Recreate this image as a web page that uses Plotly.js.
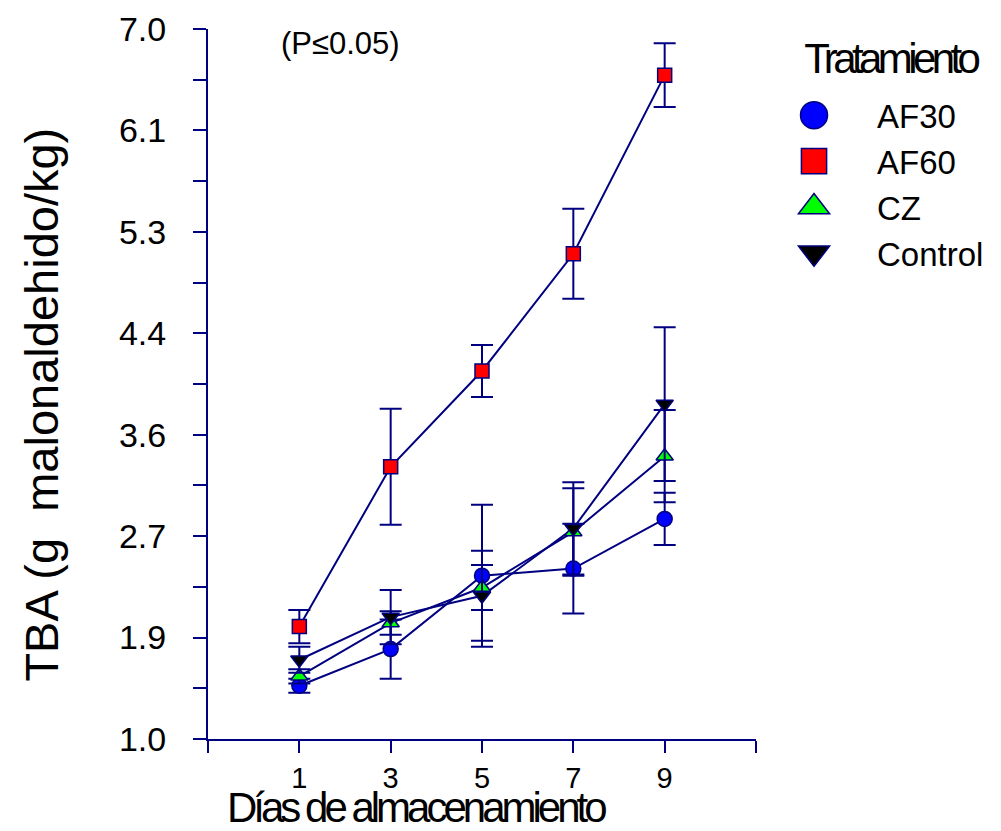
<!DOCTYPE html>
<html>
<head>
<meta charset="utf-8">
<script src="https://cdn.plot.ly/plotly-3.0.1.min.js"></script>
<style>
  html, body { margin: 0; padding: 0; background: #fff; }
  #chart { width: 1001px; height: 831px; }
  g.annotation[data-index="1"] text { letter-spacing: -4px; }
  g.annotation[data-index="2"] text { letter-spacing: -4.6px; }
  .legend .legendpoints path { vector-effect: non-scaling-stroke; }
</style>
</head>
<body>
<div id="chart"></div>
<script>
// ---- data ----
const days = [1, 3, 5, 7, 9];
const seriesNames = ['AF30', 'AF60', 'CZ', 'Control'];
const af30 = [1.45, 1.76, 2.38, 2.44, 2.86];
const af30Err = [0.06, 0.25, 0.60, 0.38, 0.22];
const af60 = [1.95, 3.30, 4.11, 5.10, 6.61];
const af60Err = [0.14, 0.49, 0.22, 0.38, 0.27];
const cz = [1.53, 1.98, 2.28, 2.75, 3.39];
const czErr = [0.06, 0.10, 0.19, 0.37, 0.39];
const control = [1.67, 2.03, 2.21, 2.78, 3.83];
const controlErr = [0.11, 0.23, 0.38, 0.39, 0.65];

const xTickVals = [-1, 1, 3, 5, 7, 9, 11];
const xTickText = ['', '1', '3', '5', '7', '9', ''];
const yTickText = ['1.0', '', '1.9', '', '2.7', '', '3.6', '', '4.4', '', '5.3', '', '6.1', '', '7.0'];
const yTickVals = yTickText.map((_, k) => 1 + k * 3 / 7);

const xTitle = 'Días de almacenamiento';
const yTitle = 'TBA (g  malonaldehido/kg)';
const legendTitle = 'Tratamiento';
const noteText = '(P≤0.05)';

// ---- styling ----
const NAVY = '#000080';
const FONT = 'Liberation Sans, Arial, sans-serif';
const markerColors = ['#0000FF', '#FF0000', '#00FF00', '#000000'];
const markerSymbols = ['circle', 'square', 'triangle-up', 'triangle-down'];
const markerSizes = [15, 14, 15, 15];
const values = [af30, af60, cz, control];
const errors = [af30Err, af60Err, czErr, controlErr];

const lineTraces = seriesNames.map((name, i) => ({
  type: 'scatter',
  mode: 'lines',
  name: name,
  x: days,
  y: values[i],
  line: { color: NAVY, width: 2 },
  showlegend: false,
  hoverinfo: 'skip'
}));

const markerTraces = seriesNames.map((name, i) => ({
  type: 'scatter',
  mode: 'markers',
  name: name,
  x: days,
  y: values[i],
  marker: {
    symbol: markerSymbols[i],
    size: markerSizes[i],
    color: markerColors[i],
    line: { color: NAVY, width: 1.5 }
  },
  error_y: {
    type: 'data',
    array: errors[i],
    visible: true,
    color: NAVY,
    thickness: 2,
    width: 11
  },
  cliponaxis: false
}));

const layout = {
  width: 1001,
  height: 831,
  margin: { l: 208, r: 243, t: 29, b: 92 },
  paper_bgcolor: '#ffffff',
  plot_bgcolor: '#ffffff',
  font: { family: FONT, color: '#000000' },
  showlegend: true,
  legend: {
    x: 0.9909, y: 0.918, xanchor: 'left', yanchor: 'top',
    font: { family: FONT, size: 33, color: '#000000' },
    itemwidth: 116,
    tracegroupgap: 0,
    bgcolor: 'rgba(0,0,0,0)'
  },
  xaxis: {
    range: [-1, 11],
    tickmode: 'array',
    tickvals: xTickVals,
    ticktext: xTickText,
    ticks: 'outside',
    ticklen: 12,
    tickwidth: 2,
    tickcolor: NAVY,
    showline: true,
    linecolor: NAVY,
    linewidth: 2,
    showgrid: false,
    zeroline: false,
    tickfont: { family: FONT, size: 29, color: '#000000' },
    automargin: false
  },
  yaxis: {
    range: [1, 7],
    tickmode: 'array',
    tickvals: yTickVals,
    ticktext: yTickText,
    ticks: 'outside',
    ticklen: 13,
    tickwidth: 2,
    tickcolor: NAVY,
    showline: true,
    linecolor: NAVY,
    linewidth: 2,
    showgrid: false,
    zeroline: false,
    ticklabelstandoff: 20,
    tickfont: { family: FONT, size: 34, color: '#000000' },
    automargin: false
  },
  annotations: [
    {
      xref: 'paper', yref: 'paper',
      x: 0.242, y: 0.979, xanchor: 'center', yanchor: 'middle',
      text: noteText,
      showarrow: false,
      font: { family: FONT, size: 31, color: '#000000' }
    },
    {
      xref: 'paper', yref: 'paper',
      x: 0.378, y: -0.097, xanchor: 'center', yanchor: 'middle',
      text: xTitle,
      showarrow: false,
      borderpad: 0,
      font: { family: FONT, size: 42, color: '#000000' }
    },
    {
      xref: 'paper', yref: 'paper',
      x: 1.2455, y: 0.959, xanchor: 'center', yanchor: 'middle',
      text: legendTitle,
      showarrow: false,
      font: { family: FONT, size: 42, color: '#000000' }
    },
    {
      xref: 'paper', yref: 'paper',
      x: -0.3055, y: 0.4704, xanchor: 'center', yanchor: 'middle',
      textangle: -90,
      text: yTitle,
      showarrow: false,
      font: { family: FONT, size: 47, color: '#000000' }
    }
  ]
};

Plotly.newPlot('chart', lineTraces.concat(markerTraces), layout, { displayModeBar: false, staticPlot: true })
  .then(function (gd) {
    // enlarge the legend symbols, like the reference key
    gd.querySelectorAll('.legend .legendpoints path').forEach(function (p) {
      var t = p.getAttribute('transform') || '';
      p.setAttribute('transform', t + ' scale(1.8)');
    });
  });
</script>
</body>
</html>
